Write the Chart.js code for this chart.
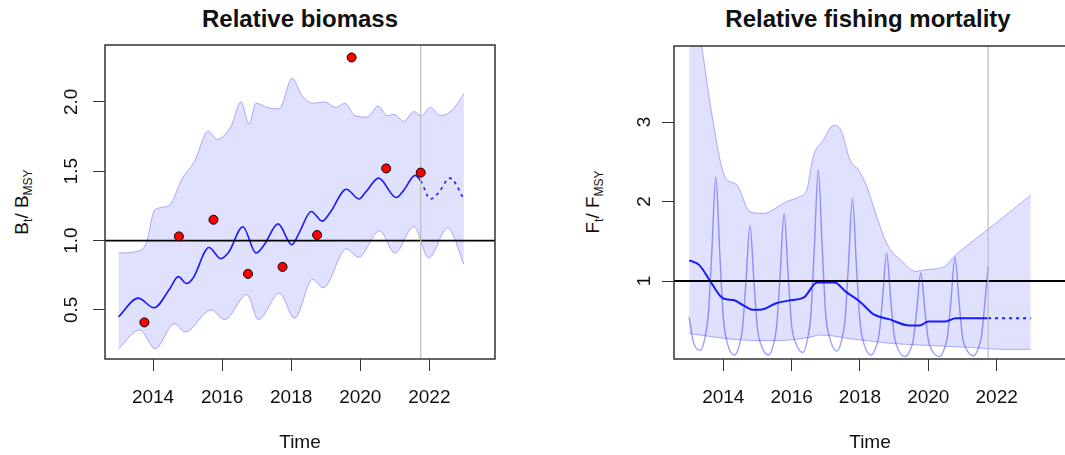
<!DOCTYPE html>
<html>
<head>
<meta charset="utf-8">
<script src="https://cdn.jsdelivr.net/npm/chart.js@4.4.0/dist/chart.umd.min.js"></script>
<style>
    body { margin: 0; width: 1065px; height: 455px; overflow: hidden; position: relative; background: #fff; }
    .title { position: absolute; top: 7px; transform: translateX(-50%); font: bold 24px 'Liberation Sans', Arial, sans-serif; line-height: 24px; color: #111; white-space: nowrap; }
    .ylab { position: absolute; transform: translate(-50%, -50%) rotate(-90deg); font: 19px 'Liberation Sans', Arial, sans-serif; line-height: 19px; color: #111; white-space: nowrap; }
    .ylab sub { font-size: 12px; vertical-align: -4px; line-height: 0; }
    canvas { position: absolute; top: 0; }
</style>
</head>
<body>
<div class="title" style="left:300px">Relative biomass</div>
<div class="title" style="left:868px">Relative fishing mortality</div>
<div class="ylab" style="left:21px;top:202px">B<sub>t</sub>/ B<sub>MSY</sub></div>
<div class="ylab" style="left:592px;top:202px">F<sub>t</sub>/ F<sub>MSY</sub></div>
<canvas id="bio-chart" width="532" height="455" style="left:0"></canvas>
<canvas id="f-chart" width="540" height="455" style="left:532px"></canvas>
<script>
// ---- data ---------------------------------------------------------------
const xTicks = [2014, 2016, 2018, 2020, 2022];
const bioTicks = [0.5, 1.0, 1.5, 2.0];
const fTicks = [1, 2, 3];
const lastObsTime = 2021.75;

// relative biomass, estimate
const bioT = [2013.00, 2013.57, 2014.03, 2014.49, 2014.73, 2014.97, 2015.16, 2015.62, 2015.96, 2016.20,
    2016.60, 2016.98, 2017.22, 2017.62, 2018.02, 2018.22, 2018.58, 2018.90, 2019.12, 2019.60,
    2019.96, 2020.16, 2020.53, 2021.04, 2021.25, 2021.59, 2021.75, 2022.03, 2022.25, 2022.60, 2023.00];
const bioV = [0.45, 0.585, 0.515, 0.655, 0.74, 0.69, 0.73, 0.95, 0.87, 0.92,
    1.10, 0.91, 0.97, 1.12, 0.97, 1.05, 1.21, 1.14, 1.20, 1.37,
    1.30, 1.35, 1.45, 1.31, 1.36, 1.47, 1.43, 1.30, 1.34, 1.45, 1.30];

// relative biomass, upper / lower confidence bound
const bioUpT = [2013.00, 2013.50, 2013.80, 2014.05, 2014.45, 2014.85, 2015.20, 2015.60, 2015.85, 2016.25,
    2016.55, 2016.78, 2016.98, 2017.30, 2017.65, 2018.03, 2018.30, 2018.65, 2018.95, 2019.30,
    2019.55, 2019.85, 2020.20, 2020.52, 2020.78, 2020.97, 2021.26, 2021.55, 2021.76, 2022.03,
    2022.32, 2022.70, 2023.00];
const bioUpV = [0.91, 0.92, 0.98, 1.22, 1.25, 1.45, 1.57, 1.79, 1.73, 1.82,
    2.00, 1.84, 1.99, 1.96, 1.95, 2.17, 2.05, 1.99, 2.00, 1.96,
    1.99, 1.90, 1.89, 1.97, 1.90, 1.91, 1.86, 1.93, 1.90, 1.96,
    1.90, 1.95, 2.06];
const bioLoT = [2013.00, 2013.62, 2014.06, 2014.62, 2014.93, 2015.68, 2016.07, 2016.72, 2017.05, 2017.66,
    2018.10, 2018.62, 2018.93, 2019.60, 2019.95, 2020.56, 2021.00, 2021.55, 2021.98, 2022.53, 2023.00];
const bioLoV = [0.22, 0.355, 0.22, 0.40, 0.34, 0.50, 0.43, 0.61, 0.43, 0.62,
    0.44, 0.72, 0.66, 0.94, 0.88, 1.07, 0.91, 1.10, 0.875, 1.09, 0.83];

// biomass index observations
const obsT = [2013.75, 2014.75, 2015.75, 2016.75, 2017.75, 2018.75, 2019.75, 2020.75, 2021.75];
const obsV = [0.41, 1.03, 1.15, 0.76, 0.81, 1.04, 2.32, 1.52, 1.49];

// relative fishing mortality, annual estimate
const fT = [2013.00, 2013.30, 2013.60, 2014.00, 2014.30, 2014.60, 2014.85, 2015.10, 2015.55, 2016.00,
    2016.35, 2016.75, 2017.25, 2017.60, 2018.00, 2018.40, 2018.85, 2019.45, 2019.75, 2020.00,
    2020.50, 2020.80, 2021.75, 2023.00];
const fV = [1.26, 1.20, 1.01, 0.78, 0.76, 0.69, 0.64, 0.64, 0.72, 0.76,
    0.79, 0.98, 0.98, 0.86, 0.74, 0.58, 0.52, 0.44, 0.44, 0.49,
    0.49, 0.53, 0.53, 0.53];

// relative fishing mortality, seasonal
const fSeasT = [2013.00, 2013.13,
    2013.33, 2013.46, 2013.56, 2013.66, 2013.78, 2013.90, 2014.00, 2014.13,
    2014.33, 2014.46, 2014.56, 2014.66, 2014.78, 2014.90, 2015.00, 2015.13,
    2015.33, 2015.46, 2015.56, 2015.66, 2015.78, 2015.90, 2016.00, 2016.13,
    2016.33, 2016.46, 2016.56, 2016.66, 2016.78, 2016.90, 2017.00, 2017.13,
    2017.33, 2017.46, 2017.56, 2017.66, 2017.78, 2017.90, 2018.00, 2018.13,
    2018.33, 2018.46, 2018.56, 2018.66, 2018.78, 2018.90, 2019.00, 2019.13,
    2019.33, 2019.46, 2019.56, 2019.66, 2019.78, 2019.90, 2020.00, 2020.13,
    2020.33, 2020.46, 2020.56, 2020.66, 2020.78, 2020.90, 2021.00, 2021.13,
    2021.33, 2021.46, 2021.56, 2021.66, 2021.75];
const fSeasV = [0.55, 0.22,
    0.13, 0.28, 0.57, 1.33, 2.31, 1.32, 0.54, 0.20,
    0.07, 0.18, 0.40, 0.97, 1.70, 0.97, 0.40, 0.17,
    0.07, 0.19, 0.43, 1.05, 1.85, 1.06, 0.44, 0.21,
    0.10, 0.26, 0.56, 1.37, 2.40, 1.37, 0.57, 0.26,
    0.12, 0.25, 0.50, 1.18, 2.04, 1.16, 0.49, 0.19,
    0.07, 0.16, 0.33, 0.77, 1.35, 0.77, 0.32, 0.13,
    0.05, 0.12, 0.26, 0.63, 1.10, 0.63, 0.26, 0.11,
    0.05, 0.14, 0.30, 0.74, 1.30, 0.74, 0.30, 0.13,
    0.06, 0.15, 0.32, 0.75, 1.18];

// relative fishing mortality, upper / lower confidence bound
const fUpT = [2013.00, 2013.37, 2013.66, 2014.05, 2014.39, 2014.78, 2015.17, 2015.85, 2016.24, 2016.44,
    2016.63, 2016.92, 2017.24, 2017.46, 2017.71, 2017.95, 2018.20, 2018.49, 2018.81, 2019.20,
    2019.64, 2019.88, 2020.47, 2020.76, 2021.15, 2021.75, 2023.00];
const fUpV = [4.90, 3.95, 3.11, 2.31, 2.21, 1.87, 1.85, 2.00, 2.06, 2.14,
    2.56, 2.77, 2.96, 2.88, 2.52, 2.40, 2.19, 1.81, 1.45, 1.26,
    1.12, 1.14, 1.18, 1.31, 1.45, 1.65, 2.08];
const fLoT = [2013.00, 2013.50, 2014.00, 2014.50, 2015.00, 2015.50, 2016.00, 2016.50, 2016.85, 2017.20,
    2017.60, 2018.00, 2018.80, 2019.50, 2020.50, 2021.40, 2021.75, 2022.20, 2023.00];
const fLoV = [0.34, 0.31, 0.28, 0.26, 0.25, 0.25, 0.26, 0.29, 0.32, 0.31,
    0.28, 0.26, 0.22, 0.20, 0.18, 0.16, 0.15, 0.14, 0.14];

// ---- styling --------------------------------------------------------------
const FONT = "'Liberation Sans', Arial, sans-serif";
const TEXT = '#111';
const BAND_FILL = 'rgba(0, 0, 255, 0.12)';
const BAND_EDGE = 'rgba(60, 60, 255, 0.4)';
const MAIN_BLUE = '#1a1aff';

Chart.defaults.font.family = FONT;
Chart.defaults.color = TEXT;

const pts = (ts, vs) => ts.map((t, i) => ({ x: t, y: vs[i] }));

// R style box around the plot region
const boxPlugin = {
    id: 'box',
    afterDraw(chart) {
        const { ctx, chartArea: a } = chart;
        ctx.save();
        ctx.strokeStyle = '#333';
        ctx.lineWidth = 1.5;
        ctx.strokeRect(a.left, a.top, a.right - a.left, a.bottom - a.top);
        ctx.restore();
    }
};

function xAxis(min, max) {
    return {
        type: 'linear', min, max,
        afterBuildTicks: s => { s.ticks = xTicks.map(v => ({ value: v })); },
        afterFit: s => { s.height = 95; },
        grid: { drawOnChartArea: false, drawTicks: true, tickLength: 12, color: '#333' },
        border: { display: false },
        ticks: { font: { size: 19 }, color: TEXT, padding: 15, maxRotation: 0, autoSkip: false, callback: v => String(v) },
        title: { display: true, text: 'Time', font: { size: 19 }, color: TEXT, padding: { top: 0, bottom: 0 } }
    };
}

function yAxis(min, max, ticks, fmt, pad) {
    return {
        type: 'linear', min, max,
        afterBuildTicks: s => { s.ticks = ticks.map(v => ({ value: v })); },
        afterFit: s => { s.width = 60; },
        grid: { drawOnChartArea: false, drawTicks: true, tickLength: 12, color: '#333' },
        border: { display: false },
        ticks: { font: { size: 19 }, color: TEXT, padding: pad, minRotation: 90, maxRotation: 90, crossAlign: 'center', autoSkip: false, callback: fmt }
    };
}

function baseOptions(padding, scales) {
    return {
        responsive: false,
        animation: false,
        events: [],
        layout: { padding },
        elements: { point: { radius: 0 }, line: { cubicInterpolationMode: 'monotone' } },
        plugins: { legend: { display: false }, tooltip: { enabled: false } },
        scales
    };
}

// dotted after the last observation
const projDash = ctx => ctx.p0.parsed.x >= lastObsTime - 1e-6 ? [3, 4] : undefined;

// ---- relative biomass ---------------------------------------------------
const bioX = [2012.61, 2023.90];
const bioY = [0.146, 2.41];

new Chart(document.getElementById('bio-chart'), {
    type: 'line',
    data: {
        datasets: [
            { data: pts(bioUpT, bioUpV), borderColor: BAND_EDGE, borderWidth: 1, fill: '+1', backgroundColor: BAND_FILL, order: 6 },
            { data: pts(bioLoT, bioLoV), borderColor: BAND_EDGE, borderWidth: 1, fill: false, order: 5 },
            { data: pts(bioT, bioV), borderColor: MAIN_BLUE, borderWidth: 1.6, fill: false, order: 4,
              segment: { borderDash: projDash } },
            { data: [{ x: bioX[0], y: 1 }, { x: bioX[1], y: 1 }], borderColor: '#000', borderWidth: 1.8, fill: false, order: 3 },
            { data: [{ x: lastObsTime, y: bioY[0] }, { x: lastObsTime, y: bioY[1] }], borderColor: '#bdbdbd', borderWidth: 1.2, fill: false, order: 2, cubicInterpolationMode: 'default', tension: 0 },
            { data: pts(obsT, obsV), showLine: false, pointRadius: 4.5, pointBackgroundColor: '#ff0000', pointBorderColor: '#000', pointBorderWidth: 1, order: 1 }
        ]
    },
    options: baseOptions({ left: 45, right: 37, top: 45, bottom: 1 }, {
        x: xAxis(bioX[0], bioX[1]),
        y: yAxis(bioY[0], bioY[1], bioTicks, v => v.toFixed(1), 8)
    }),
    plugins: [boxPlugin]
});

// ---- relative fishing mortality -----------------------------------------
const fX = [2012.557, 2024.03];
const fY = [0.019, 3.956];

new Chart(document.getElementById('f-chart'), {
    type: 'line',
    data: {
        datasets: [
            { data: pts(fUpT, fUpV), borderColor: BAND_EDGE, borderWidth: 1, fill: '+1', backgroundColor: BAND_FILL, order: 7 },
            { data: pts(fLoT, fLoV), borderColor: BAND_EDGE, borderWidth: 1, fill: false, order: 6 },
            { data: pts(fSeasT, fSeasV), borderColor: 'rgba(40, 40, 255, 0.45)', borderWidth: 1.4, fill: false, order: 5 },
            { data: pts(fT, fV), borderColor: MAIN_BLUE, borderWidth: 2, fill: false, order: 4,
              segment: { borderDash: projDash } },
            { data: [{ x: fX[0], y: 1 }, { x: fX[1], y: 1 }], borderColor: '#000', borderWidth: 1.8, fill: false, order: 3 },
            { data: [{ x: lastObsTime, y: fY[0] }, { x: lastObsTime, y: fY[1] }], borderColor: '#bdbdbd', borderWidth: 1.2, fill: false, order: 2, cubicInterpolationMode: 'default', tension: 0 }
        ]
    },
    options: baseOptions({ left: 82, right: 6, top: 46, bottom: 1 }, {
        x: xAxis(fX[0], fX[1]),
        y: yAxis(fY[0], fY[1], fTicks, v => String(v), 12)
    }),
    plugins: [boxPlugin]
});
</script>
</body>
</html>
